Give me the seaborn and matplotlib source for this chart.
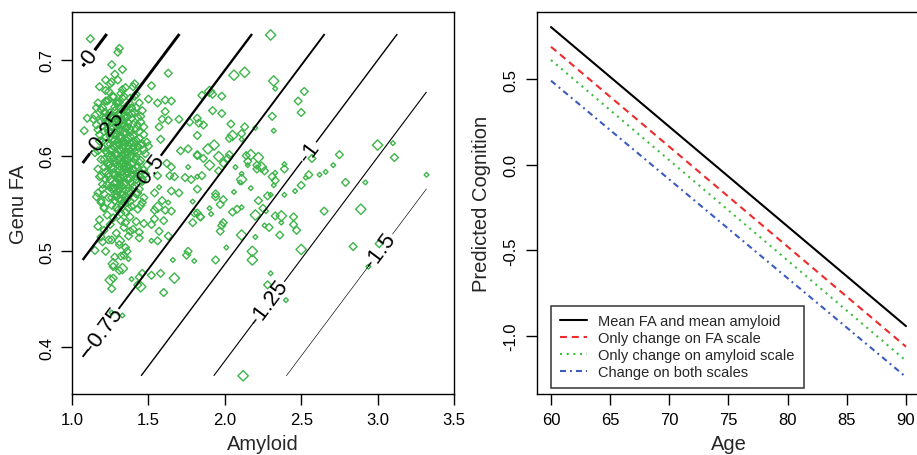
import numpy as np
import pandas as pd
import matplotlib
matplotlib.use('Agg')
import matplotlib.pyplot as plt
import seaborn as sns

# ---- left panel: amyloid vs genu FA (open diamonds, 3 sizes) ----
amy_big = [2.06, 2.13, 2.32, 2.30, 1.90, 1.89, 1.93, 1.96, 1.90, 2.05, 2.17, 2.22, 2.24, 2.11,
           2.20, 2.37, 2.11, 2.50, 2.18, 2.18, 2.12, 3.00, 2.89, 1.27, 1.33, 1.25, 1.45, 1.67,
           1.31, 1.56, 1.40]
fa_big = [0.684, 0.687, 0.678, 0.726, 0.667, 0.607, 0.611, 0.599, 0.590, 0.621, 0.601, 0.598, 0.588, 0.575,
          0.538, 0.537, 0.517, 0.502, 0.500, 0.491, 0.370, 0.611, 0.544, 0.487, 0.482, 0.470, 0.463, 0.472,
          0.511, 0.546, 0.612]

amy_mid = [2.52, 2.48, 2.50, 2.31, 1.85, 1.92, 1.98, 1.92, 1.98, 1.83, 1.86, 1.82, 2.04, 2.03,
           2.13, 2.11, 1.82, 1.86, 2.02, 2.03, 1.99, 2.14, 2.15, 2.21, 2.21, 2.26, 1.96, 1.85,
           2.31, 2.33, 2.39, 2.50, 2.55, 2.57, 1.82, 1.94, 1.94, 1.99, 1.97, 1.82, 1.84, 2.05,
           2.08, 2.22, 2.28, 2.25, 2.33, 2.45, 2.45, 2.47, 1.98, 1.97, 1.99, 2.29, 2.36, 1.94,
           2.28, 2.75, 2.79, 2.65, 2.84, 3.01, 3.11,
           1.28, 1.32, 1.34, 1.27, 1.31, 1.27, 1.26, 1.44, 1.46, 1.52, 1.58, 1.43, 1.60, 1.75,
           1.58, 1.71, 1.76, 1.82, 1.62, 1.65, 1.56, 1.64, 1.67, 1.74, 1.78, 1.65, 1.70, 1.54,
           1.59, 1.61, 1.54, 1.65, 1.80, 1.84, 1.54, 1.60, 1.47, 1.52, 1.57, 1.63, 1.79, 1.56,
           1.76, 1.44, 1.38, 1.24, 1.20, 1.15, 1.22, 1.36,
           1.12, 1.31, 1.30, 1.26, 1.33, 1.28, 1.63, 1.52, 1.22, 1.26, 1.33, 1.41, 1.24, 1.50,
           1.56, 1.61, 1.65, 1.16, 1.22, 1.61, 1.63, 1.59, 1.70, 1.57, 1.10, 1.14, 1.08, 1.22,
           1.77, 1.82]
fa_mid = [0.667, 0.657, 0.645, 0.641, 0.663, 0.664, 0.662, 0.647, 0.644, 0.634, 0.632, 0.621, 0.633, 0.618,
          0.630, 0.623, 0.601, 0.597, 0.597, 0.601, 0.592, 0.600, 0.594, 0.590, 0.586, 0.584, 0.584, 0.579,
          0.578, 0.574, 0.586, 0.569, 0.580, 0.597, 0.565, 0.560, 0.557, 0.554, 0.549, 0.540, 0.536, 0.541,
          0.544, 0.553, 0.558, 0.545, 0.537, 0.536, 0.528, 0.522, 0.527, 0.521, 0.530, 0.525, 0.517, 0.491,
          0.465, 0.601, 0.572, 0.542, 0.505, 0.508, 0.598,
          0.494, 0.495, 0.496, 0.484, 0.480, 0.472, 0.461, 0.473, 0.477, 0.475, 0.477, 0.465, 0.457, 0.496,
          0.617, 0.605, 0.607, 0.600, 0.592, 0.588, 0.579, 0.579, 0.578, 0.577, 0.575, 0.563, 0.561, 0.561,
          0.553, 0.543, 0.543, 0.542, 0.540, 0.536, 0.534, 0.532, 0.529, 0.528, 0.521, 0.516, 0.530, 0.511,
          0.500, 0.520, 0.521, 0.512, 0.510, 0.501, 0.500, 0.500,
          0.722, 0.712, 0.708, 0.695, 0.690, 0.685, 0.686, 0.673, 0.679, 0.677, 0.669, 0.675, 0.667, 0.659,
          0.655, 0.658, 0.657, 0.650, 0.657, 0.646, 0.637, 0.638, 0.638, 0.630, 0.639, 0.638, 0.626, 0.645,
          0.635, 0.639]

amy_small = [2.32, 2.33, 2.15, 2.20, 2.11, 2.07, 1.82, 2.11, 2.10, 2.33, 2.39, 2.32, 2.46, 2.53,
             2.06, 2.17, 2.30, 2.39, 1.90, 1.91, 2.11, 2.27, 2.37, 2.20, 2.26, 2.01, 2.30, 2.40,
             3.10, 3.32, 2.71, 2.66, 2.62, 2.92, 2.94, 1.37, 1.39, 1.66, 1.80, 1.26, 1.33, 1.76,
             1.57, 1.63, 1.79, 1.52]
fa_small = [0.626, 0.670, 0.590, 0.629, 0.617, 0.588, 0.578, 0.581, 0.572, 0.582, 0.591, 0.569, 0.563, 0.577,
            0.562, 0.566, 0.559, 0.559, 0.545, 0.539, 0.546, 0.542, 0.530, 0.515, 0.527, 0.504, 0.477, 0.449,
            0.613, 0.580, 0.590, 0.583, 0.580, 0.572, 0.484, 0.492, 0.471, 0.491, 0.490, 0.436, 0.433, 0.588,
            0.567, 0.551, 0.552, 0.511]

# dense core of the cloud
amy_core = [1.18, 1.22, 1.25, 1.27, 1.30, 1.32, 1.35, 1.38, 1.29, 1.24, 1.36, 1.42, 1.20, 1.33,
            1.15, 1.19, 1.21, 1.23, 1.26, 1.28, 1.30, 1.31, 1.33, 1.34, 1.36, 1.37, 1.39, 1.41,
            1.43, 1.45, 1.27, 1.24, 1.29, 1.32, 1.35, 1.38, 1.40, 1.22, 1.44, 1.47, 1.17,
            1.18, 1.20, 1.23, 1.25, 1.26, 1.28, 1.29, 1.30, 1.31, 1.32, 1.33, 1.34, 1.35, 1.36,
            1.37, 1.38, 1.39, 1.40, 1.42, 1.43, 1.45, 1.47, 1.49, 1.27, 1.30, 1.33, 1.21, 1.24,
            1.36, 1.39, 1.41, 1.44, 1.15,
            1.17, 1.19, 1.22, 1.25, 1.26, 1.28, 1.29, 1.31, 1.32, 1.34, 1.35, 1.36, 1.38, 1.40,
            1.42, 1.44, 1.46, 1.48, 1.23, 1.27, 1.30, 1.33, 1.37, 1.20, 1.40, 1.43,
            1.16, 1.19, 1.21, 1.24, 1.26, 1.28, 1.30, 1.31, 1.33, 1.35, 1.36, 1.39, 1.41, 1.43,
            1.46, 1.23, 1.27, 1.32, 1.38, 1.18, 1.42,
            1.17, 1.21, 1.25, 1.29, 1.34, 1.37, 1.40, 1.26, 1.31, 1.19, 1.35, 1.44,
            1.27, 1.29, 1.31, 1.33, 1.34, 1.36, 1.28, 1.31, 1.34, 1.37, 1.30, 1.33, 1.35, 1.32,
            1.29, 1.26, 1.38, 1.41, 1.24, 1.39,
            1.28, 1.30, 1.32, 1.34, 1.36, 1.29, 1.31, 1.33, 1.35, 1.37, 1.27, 1.30, 1.32, 1.34,
            1.36, 1.38, 1.28, 1.31, 1.33, 1.35, 1.29, 1.32, 1.34, 1.30, 1.33, 1.31, 1.27, 1.25,
            1.39, 1.40, 1.37, 1.26, 1.24, 1.22, 1.35, 1.31,
            1.23, 1.27, 1.31, 1.34, 1.38, 1.25, 1.28, 1.32, 1.35, 1.39, 1.42, 1.24, 1.27, 1.30,
            1.33, 1.36, 1.40, 1.23, 1.26, 1.29, 1.32, 1.35, 1.38, 1.42, 1.25, 1.28, 1.31, 1.34,
            1.37, 1.40, 1.44, 1.23, 1.26, 1.29, 1.32, 1.35, 1.38, 1.42, 1.25, 1.28, 1.31, 1.34,
            1.37, 1.40, 1.43, 1.24, 1.27, 1.30, 1.33, 1.36, 1.39, 1.42, 1.25, 1.28, 1.31, 1.34,
            1.37, 1.41, 1.26, 1.29, 1.32, 1.35, 1.38,
            1.17, 1.19, 1.16, 1.18, 1.20, 1.17, 1.19, 1.21, 1.18, 1.20, 1.17, 1.19, 1.21, 1.22,
            1.21, 1.22, 1.23, 1.22, 1.21, 1.20,
            1.44, 1.46, 1.45, 1.47, 1.46, 1.48, 1.45, 1.47, 1.46, 1.44, 1.47, 1.45, 1.43, 1.43,
            1.44, 1.42, 1.49, 1.50, 1.41, 1.40]
fa_core = [0.672, 0.668, 0.675, 0.662, 0.679, 0.665, 0.671, 0.660, 0.655, 0.658, 0.652, 0.664, 0.650, 0.648,
           0.642, 0.636, 0.645, 0.633, 0.640, 0.647, 0.637, 0.644, 0.631, 0.641, 0.646, 0.634, 0.639, 0.645,
           0.632, 0.641, 0.629, 0.625, 0.622, 0.626, 0.623, 0.628, 0.621, 0.619, 0.625, 0.630, 0.627,
           0.615, 0.608, 0.612, 0.605, 0.617, 0.609, 0.602, 0.614, 0.606, 0.618, 0.601, 0.611, 0.604, 0.616,
           0.607, 0.613, 0.600, 0.609, 0.616, 0.603, 0.611, 0.606, 0.614, 0.598, 0.595, 0.592, 0.596, 0.590,
           0.597, 0.591, 0.596, 0.593, 0.603,
           0.586, 0.579, 0.583, 0.575, 0.588, 0.580, 0.572, 0.585, 0.577, 0.589, 0.571, 0.582, 0.576, 0.586,
           0.578, 0.584, 0.573, 0.581, 0.570, 0.566, 0.562, 0.568, 0.563, 0.565, 0.567, 0.561,
           0.557, 0.551, 0.545, 0.556, 0.548, 0.553, 0.543, 0.555, 0.549, 0.541, 0.554, 0.547, 0.556, 0.544,
           0.551, 0.538, 0.535, 0.532, 0.536, 0.533, 0.531,
           0.526, 0.522, 0.528, 0.519, 0.525, 0.516, 0.523, 0.512, 0.507, 0.515, 0.504, 0.514,
           0.622, 0.631, 0.628, 0.615, 0.624, 0.630, 0.592, 0.598, 0.596, 0.589, 0.575, 0.580, 0.586, 0.560,
           0.557, 0.600, 0.620, 0.604, 0.581, 0.571,
           0.636, 0.643, 0.638, 0.633, 0.640, 0.611, 0.619, 0.608, 0.613, 0.602, 0.587, 0.583, 0.591, 0.578,
           0.594, 0.584, 0.566, 0.569, 0.559, 0.564, 0.546, 0.540, 0.552, 0.655, 0.660, 0.650, 0.610, 0.620,
           0.650, 0.585, 0.545, 0.565, 0.600, 0.640, 0.530, 0.575,
           0.657, 0.661, 0.656, 0.662, 0.654, 0.645, 0.651, 0.643, 0.649, 0.644, 0.650, 0.636, 0.639, 0.633,
           0.637, 0.641, 0.633, 0.628, 0.624, 0.627, 0.621, 0.629, 0.624, 0.628, 0.612, 0.616, 0.611, 0.615,
           0.610, 0.614, 0.618, 0.603, 0.607, 0.600, 0.606, 0.601, 0.605, 0.599, 0.591, 0.595, 0.589, 0.593,
           0.587, 0.592, 0.588, 0.578, 0.582, 0.577, 0.583, 0.576, 0.580, 0.575, 0.567, 0.571, 0.565, 0.570,
           0.566, 0.569, 0.556, 0.559, 0.553, 0.558, 0.552,
           0.655, 0.648, 0.632, 0.622, 0.615, 0.605, 0.596, 0.588, 0.578, 0.570, 0.561, 0.553, 0.546, 0.635,
           0.625, 0.605, 0.592, 0.575, 0.560, 0.640,
           0.655, 0.647, 0.635, 0.622, 0.612, 0.602, 0.595, 0.585, 0.575, 0.565, 0.556, 0.548, 0.640, 0.610,
           0.578, 0.560, 0.590, 0.610, 0.662, 0.672]

# fitted linear surface
surf_intercept = -1.150
surf_amy = -0.526
surf_fa = 2.47
contour_levels = [-1.5, -1.25, -1.0, -0.75, -0.5, -0.25, 0.0]
contour_names = ['-1.5', '-1.25', '-1', '-0.75', '-0.5', '-0.25', '0']
amy_range = [1.07, 3.32]
fa_range = [0.37, 0.727]

# ---- right panel: predicted cognition vs age ----
age = [60, 90]
cog_mean = [0.803, -0.942]
cog_fa = [0.688, -1.062]
cog_amy = [0.611, -1.144]
cog_both = [0.490, -1.239]
line_names = ['Mean FA and mean amyloid', 'Only change on FA scale',
              'Only change on amyloid scale', 'Change on both scales']

sns.set_theme(style='ticks')
plt.rcParams['font.family'] = ['Liberation Sans', 'DejaVu Sans']
plt.rcParams['lines.scale_dashes'] = False
plt.rcParams['axes.edgecolor'] = 'black'
plt.rcParams['axes.linewidth'] = 1.0
plt.rcParams['xtick.color'] = 'black'
plt.rcParams['ytick.color'] = 'black'

green = '#3DB54A'
fig = plt.figure(figsize=(9.17, 4.56), dpi=100)
ax1 = fig.add_axes([72 / 917, 61 / 456, 382 / 917, 382 / 456])
ax2 = fig.add_axes([536.8 / 917, 61 / 456, 383.4 / 917, 382 / 456])

pts = pd.concat([
    pd.DataFrame({'amy': amy_core, 'fa': fa_core, 'grp': 'mid'}),
    pd.DataFrame({'amy': amy_mid, 'fa': fa_mid, 'grp': 'mid'}),
    pd.DataFrame({'amy': amy_big, 'fa': fa_big, 'grp': 'big'}),
    pd.DataFrame({'amy': amy_small, 'fa': fa_small, 'grp': 'small'}),
])
sns.scatterplot(data=pts, x='amy', y='fa', size='grp',
                sizes={'big': 28, 'mid': 16, 'small': 6},
                marker='D', facecolor='none', edgecolor=green, linewidth=1.0,
                legend=False, ax=ax1, zorder=2)

gx, gy = np.meshgrid(np.linspace(amy_range[0], amy_range[1], 60),
                     np.linspace(fa_range[0], fa_range[1], 60))
gz = surf_intercept + surf_amy * gx + surf_fa * gy
lws = [0.45, 0.8, 1.0, 1.35, 1.7, 2.1, 2.2]
cs = ax1.contour(gx, gy, gz, levels=contour_levels, colors='black', linewidths=lws,
                 linestyles='solid', zorder=3)
label_pos = [(3.03, 0.50), (2.263, 0.450), (2.545, 0.605), (1.203, 0.419),
             (1.497, 0.584), (1.216, 0.623), (1.118, 0.703)]
ax1.clabel(cs, fmt=dict(zip(contour_levels, contour_names)), manual=label_pos,
           inline=True, inline_spacing=3, fontsize=16, colors='black')

ax1.set_xlim(1.0, 3.5)
ax1.set_ylim(0.351, 0.750)
ax1.set_xticks([1.0, 1.5, 2.0, 2.5, 3.0, 3.5])
ax1.set_xticklabels(['1.0', '1.5', '2.0', '2.5', '3.0', '3.5'])
ax1.set_yticks([0.4, 0.5, 0.6, 0.7])
ax1.set_yticklabels(['0.4', '0.5', '0.6', '0.7'], rotation=90, va='center')
ax1.set_xlabel('Amyloid', fontsize=14.5)
ax1.set_ylabel('Genu FA', fontsize=14.5)
ax1.xaxis.set_label_coords(0.5, -0.105)
ax1.yaxis.set_label_coords(-0.115, 0.5)

styles = [('black', '-'), ('#EE2A2A', (0, (5, 3.5))), ('#3DBE3D', (0, (1.5, 3.3))),
          ('#3A5BBF', (0, (4.3, 2.9, 1.4, 2.9)))]
for vals, name, (col, ls) in zip([cog_mean, cog_fa, cog_amy, cog_both], line_names, styles):
    sns.lineplot(x=age, y=vals, color=col, linestyle=ls, linewidth=1.5, label=name, ax=ax2)

ax2.set_xlim(58.8, 91.2)
ax2.set_ylim(-1.338, 0.891)
ax2.set_xticks([60, 65, 70, 75, 80, 85, 90])
ax2.set_yticks([-1.0, -0.5, 0.0, 0.5])
ax2.set_yticklabels(['-1.0', '-0.5', '0.0', '0.5'], rotation=90, va='center')
ax2.set_xlabel('Age', fontsize=14.5)
ax2.set_ylabel('Predicted Cognition', fontsize=14.5)
ax2.xaxis.set_label_coords(0.5, -0.105)
ax2.yaxis.set_label_coords(-0.12, 0.5)
leg = ax2.legend(loc='lower left', bbox_to_anchor=(0.037, 0.016), borderaxespad=0,
                 fontsize=10.5, frameon=True, fancybox=False, edgecolor='black',
                 handlelength=1.9, handletextpad=0.75, labelspacing=0.2, borderpad=0.6)
leg.get_frame().set_linewidth(1.1)

for ax in (ax1, ax2):
    ax.tick_params(length=8, width=1, labelsize=12, pad=5, colors='black')
    for sp in ax.spines.values():
        sp.set_visible(True)
        sp.set_color('black')

fig.savefig('out.png', dpi=100)
